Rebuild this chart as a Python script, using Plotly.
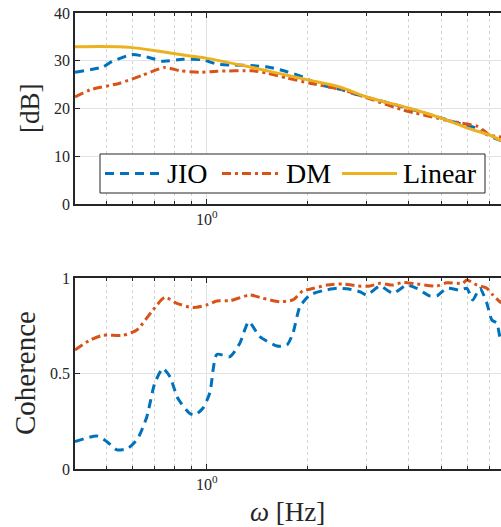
import math
import plotly.graph_objects as go
from plotly.subplots import make_subplots

# ---- data ----
lin_f = [0.40, 0.48, 0.59, 0.72, 0.89, 1.0, 1.344, 1.65, 2.0, 2.49, 3.0, 4.0, 5.0, 6.0, 7.0, 7.6]
lin_db = [32.9, 33.0, 32.8, 32.0, 31.0, 30.5, 28.7, 27.3, 26.0, 24.5, 22.4, 20.1, 18.0, 15.9, 14.4, 13.2]

jio_f = [0.404, 0.489, 0.520, 0.597, 0.662, 0.739, 0.848, 0.973, 1.071, 1.196, 1.362, 1.542,
         1.733, 1.935, 2.175, 2.5, 2.804, 3.518, 4.0, 4.96, 5.7, 6.31, 7.0, 7.6]
jio_db = [27.6, 28.7, 29.8, 31.3, 30.8, 29.9, 30.3, 30.2, 29.3, 29.1, 29.0, 28.6,
          27.7, 26.6, 25.0, 24.0, 22.9, 21.1, 20.0, 18.1, 16.8, 16.0, 14.2, 13.2]

dm_f = [0.404, 0.448, 0.550, 0.644, 0.749, 0.831, 0.953, 1.071, 1.371, 1.510, 1.733, 2.029,
        2.547, 3.131, 3.847, 5.31, 5.69, 6.40, 6.67, 7.0, 7.6]
dm_db = [22.4, 23.9, 25.3, 27.0, 28.6, 27.9, 27.6, 27.8, 27.9, 27.4, 26.4, 25.3,
         23.9, 21.8, 19.7, 17.4, 17.0, 16.3, 15.5, 14.4, 14.0]

coh_dm_f = [0.404, 0.448, 0.489, 0.562, 0.618, 0.690, 0.749, 0.814, 0.908, 1.0, 1.071, 1.171,
            1.344, 1.469, 1.651, 1.806, 1.935, 2.029, 2.282, 2.547, 2.823, 3.066, 3.284, 3.591,
            3.847, 4.235, 4.86, 5.20, 5.81, 5.97, 6.40, 6.85, 7.14, 7.49, 7.6]
coh_dm = [0.623, 0.675, 0.70, 0.70, 0.728, 0.832, 0.899, 0.867, 0.845, 0.859, 0.88, 0.881,
          0.911, 0.894, 0.876, 0.885, 0.934, 0.941, 0.963, 0.969, 0.958, 0.958, 0.972, 0.963,
          0.977, 0.969, 0.958, 0.975, 0.972, 0.99, 0.963, 0.946, 0.911, 0.876, 0.87]

coh_jio_f = [0.404, 0.470, 0.503, 0.539, 0.581, 0.622, 0.662, 0.699, 0.739, 0.776, 0.819, 0.890,
             0.921, 0.973, 1.021, 1.071, 1.171, 1.254, 1.334, 1.439, 1.618, 1.733, 1.806, 1.896,
             2.029, 2.221, 2.444, 2.673, 2.862, 3.003, 3.284, 3.591, 3.953, 4.235, 4.63, 4.86,
             5.20, 5.69, 5.97, 6.22, 6.53, 6.85, 7.09, 7.34, 7.49, 7.6]
coh_jio = [0.143, 0.173, 0.143, 0.10, 0.108, 0.16, 0.274, 0.449, 0.527, 0.483, 0.37, 0.29,
           0.283, 0.318, 0.40, 0.600, 0.588, 0.658, 0.771, 0.693, 0.644, 0.649, 0.71, 0.85,
           0.911, 0.934, 0.946, 0.941, 0.928, 0.911, 0.958, 0.92, 0.963, 0.946, 0.906, 0.906,
           0.946, 0.937, 0.946, 0.885, 0.946, 0.868, 0.78, 0.763, 0.693, 0.67]

db_ticks = [0, 10, 20, 30, 40]
coh_ticks = [0, 0.5, 1]
coh_ticktext = ["0", "0.5", "1"]
minor_f = [0.5, 0.6, 0.7, 0.8, 0.9, 2, 3, 4, 5, 6, 7, 8, 9]
legend_names = ["JIO", "DM", "Linear"]

BLUE = "#0072BD"
ORANGE = "#D95319"
YELLOW = "#EDB120"
FONT = "Liberation Serif"
AX = "#262626"
GRID = "#e3e3e3"

lw = 3
dash_jio = "9px,6px"
dash_dm = "9px,4px,3px,4px"
series_style = [(BLUE, dash_jio), (ORANGE, dash_dm), (YELLOW, "solid")]

fig = make_subplots(rows=2, cols=1, vertical_spacing=0.0)

fig.add_trace(go.Scatter(x=jio_f, y=jio_db, mode="lines", name="JIO", showlegend=False,
                         line=dict(color=BLUE, width=lw, dash=dash_jio, shape="spline", smoothing=0.6)),
              row=1, col=1)
fig.add_trace(go.Scatter(x=dm_f, y=dm_db, mode="lines", name="DM", showlegend=False,
                         line=dict(color=ORANGE, width=lw, dash=dash_dm, shape="spline", smoothing=0.6)),
              row=1, col=1)
fig.add_trace(go.Scatter(x=lin_f, y=lin_db, mode="lines", name="Linear", showlegend=False,
                         line=dict(color=YELLOW, width=lw, shape="spline", smoothing=0.8)),
              row=1, col=1)
fig.add_trace(go.Scatter(x=coh_jio_f, y=coh_jio, mode="lines", showlegend=False,
                         line=dict(color=BLUE, width=lw, dash=dash_jio, shape="spline", smoothing=0.6)),
              row=2, col=1)
fig.add_trace(go.Scatter(x=coh_dm_f, y=coh_dm, mode="lines", showlegend=False,
                         line=dict(color=ORANGE, width=lw, dash=dash_dm, shape="spline", smoothing=0.6)),
              row=2, col=1)

W, H = 501, 527
L, R, T, B = 75, 0, 13, 58
pw = W - L - R
ph = H - T - B
top_lo = (469 - 204) / ph
bot_hi = (469 - 278) / ph

def px(x):
    return (x - L) / pw

def py(y):
    return (H - B - y) / ph

xr = [math.log10(0.404), math.log10(7.55)]

fig.update_xaxes(type="log", range=xr, showline=True, linecolor=AX, linewidth=1.5, mirror="ticks",
                 ticks="inside", ticklen=5, tickcolor=AX,
                 tickvals=[1], ticktext=["10<sup>0</sup>"],
                 showgrid=True, gridcolor=GRID, gridwidth=1,
                 tickfont=dict(family=FONT, size=16, color=AX),
                 minor=dict(tickvals=minor_f, ticks="inside", ticklen=3, tickcolor=AX,
                            showgrid=True, gridcolor="#d4d4d4", griddash="dot", gridwidth=1),
                 zeroline=False)
fig.update_yaxes(showline=True, linecolor=AX, linewidth=1.5, ticks="inside", ticklen=5, tickcolor=AX,
                 showgrid=True, gridcolor=GRID, gridwidth=1, zeroline=False,
                 tickfont=dict(family=FONT, size=16, color=AX))
fig.update_yaxes(range=[0, 40], tickvals=db_ticks, domain=[top_lo, 1], row=1, col=1)
fig.update_yaxes(range=[0, 1], tickvals=coh_ticks, ticktext=coh_ticktext, domain=[0, bot_hi], row=2, col=1)

# ---- legend box (drawn to match reference layout) ----
shapes = [dict(type="rect", xref="paper", yref="paper", x0=px(100), x1=px(485), y0=py(193), y1=py(154),
               line=dict(color=AX, width=1), fillcolor="white", layer="above")]
annotations = []
leg_y = 173.5
sample_x = [(105, 160), (222, 278), (342, 397)]
text_x = [165, 284, 401]
for (c, d), (x0, x1), tx, name in zip(series_style, sample_x, text_x, legend_names):
    shapes.append(dict(type="line", xref="paper", yref="paper", x0=px(x0), x1=px(x1), y0=py(leg_y), y1=py(leg_y),
                       line=dict(color=c, width=lw, dash=d), layer="above"))
    annotations.append(dict(text=name, xref="paper", yref="paper", x=px(tx), y=py(leg_y),
                            xanchor="left", yanchor="middle", showarrow=False,
                            font=dict(family=FONT, size=28, color="black")))

annotations += [
    dict(text="[dB]", xref="paper", yref="paper", x=0, xshift=-45, y=py(108),
         textangle=-90, showarrow=False, font=dict(family=FONT, size=27, color=AX),
         xanchor="center", yanchor="middle"),
    dict(text="Coherence", xref="paper", yref="paper", x=0, xshift=-50, y=py(373),
         textangle=-90, showarrow=False, font=dict(family=FONT, size=29, color=AX),
         xanchor="center", yanchor="middle"),
    dict(text="<i>ω</i> [Hz]", xref="paper", yref="paper", x=px(287), y=py(512),
         showarrow=False, font=dict(family=FONT, size=27, color=AX),
         xanchor="center", yanchor="middle"),
]

fig.update_layout(
    width=W, height=H,
    margin=dict(l=L, r=R, t=T, b=B),
    plot_bgcolor="white", paper_bgcolor="white",
    font=dict(family=FONT, color=AX),
    showlegend=False,
    shapes=shapes,
    annotations=annotations,
)

fig.write_html("out.html", config={"displayModeBar": False},
               post_script="document.body.style.margin='0';document.body.style.overflow='hidden';")
